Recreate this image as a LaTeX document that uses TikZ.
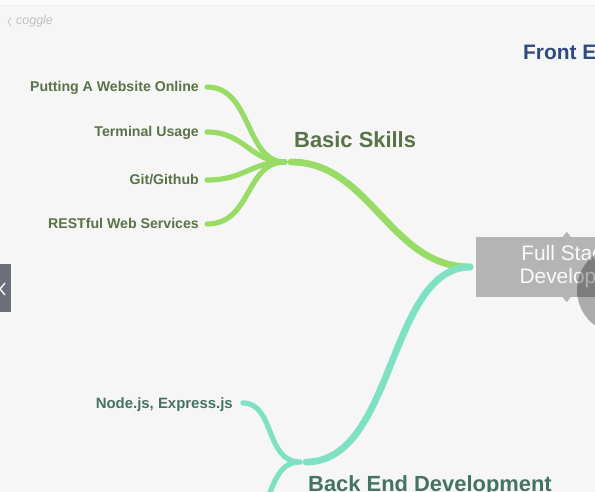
\documentclass[tikz,border=0pt]{standalone}
\usepackage{fontspec}
\setmainfont{Liberation Sans}
\usetikzlibrary{positioning}
\definecolor{cgBack}{HTML}{F6F6F6}
\definecolor{cgGreen}{HTML}{98DC66}
\definecolor{cgGreenText}{HTML}{5A7247}
\definecolor{cgTeal}{HTML}{7FE1C4}
\definecolor{cgTealText}{HTML}{457265}
\definecolor{cgBlue}{HTML}{2F4A7E}
\definecolor{cgNode}{HTML}{B4B4B4}
\definecolor{cgTab}{HTML}{6C6F79}
\begin{document}
\begin{tikzpicture}[x=1bp,y=-1bp,
  node distance=8bp,
  leaf/.style={font=\fontsize{14.2}{16}\selectfont\bfseries,inner sep=0pt,
               text height=10bp,text depth=0pt},
  gleaf/.style={leaf,text=cgGreenText},
  tleaf/.style={leaf,text=cgTealText},
  topic/.style={font=\fontsize{22}{24}\selectfont\bfseries,inner sep=0pt,
                text height=15.8bp,text depth=0pt,anchor=west},
  root/.style={fill=cgNode,text=white!95!cgNode,align=center,
               font=\fontsize{21}{23}\selectfont,
               minimum width=182bp,minimum height=60bp,anchor=west},
  gbr/.style={cgGreen,line width=5.2bp,line cap=round},
  gmain/.style={cgGreen,line width=6.8bp,line cap=round},
  tbr/.style={cgTeal,line width=5.2bp,line cap=round},
  tmain/.style={cgTeal,line width=6.8bp,line cap=round}
]
\useasboundingbox (0,0) rectangle (595,492);
\clip (0,0) rectangle (595,492);
\fill[cgBack] (0,0) rectangle (595,492);
\fill[white!60!cgBack] (0,0) rectangle (595,5);
\draw[black!7,line width=1bp] (0,5.5) -- (595,5.5);

% app chrome
\draw[black!22,line width=0.9bp,line cap=round,line join=round] (11,18) -- (8,22) -- (11,26);
\node[text=black!25,font=\fontsize{12.5}{13}\selectfont\rmfamily\itshape,anchor=west,inner sep=0pt] (logo) at (16,21) {coggle};
\fill[cgTab] (0,264) rectangle (11,312);
\draw[white,line width=1.3bp] (-5,283) -- (5,295) (-5,295) -- (5,283);

% central node
\node[root] (fsd) at (476,267) {Full Stack\\Developer};
\fill[cgNode] ([xshift=-0.5bp]fsd.north) ++(-4,0) -- ++(4,-5) -- ++(4,5) -- cycle;
\fill[cgNode] ([xshift=-0.5bp]fsd.south) ++(-4,0) -- ++(4,5) -- ++(4,-5) -- cycle;
\coordinate (rootIn) at ([xshift=-6bp]fsd.west);

\node[topic,text=cgBlue,font=\fontsize{21}{24}\selectfont\bfseries] (fe) at (523,52) {Front End Development};

% basic skills
\coordinate (bsHub) at (288,162);
\node[topic,text=cgGreenText] (bs) at ([shift={(6,-22)}]bsHub) {Basic Skills};
\coordinate (pwoEnd) at (207,87);
\coordinate (tuEnd)  at (207,132);
\coordinate (gitEnd) at (207,180);
\coordinate (restEnd) at (207,224);
\node[gleaf,left=of pwoEnd]  (pwo)  {Putting A Website Online};
\node[gleaf,left=of tuEnd]   (tu)   {Terminal Usage};
\node[gleaf,left=of gitEnd]  (git)  {Git/Github};
\node[gleaf,left=of restEnd] (rest) {RESTful Web Services};

\draw[gmain] (rootIn) .. controls (390,267) and (370,162) .. ([xshift=3bp]bsHub);
\draw[gbr] ([xshift=-3bp]bsHub) .. controls (245,162) and (252,87) .. (pwoEnd);
\draw[gbr] ([xshift=-3bp]bsHub) .. controls (250,162) and (245,132) .. (tuEnd);
\draw[gbr] ([xshift=-3bp]bsHub) .. controls (250,162) and (245,180) .. (gitEnd);
\draw[gbr] ([xshift=-3bp]bsHub) .. controls (245,162) and (252,224) .. (restEnd);

% back end
\coordinate (beHub) at (303,462);
\node[topic,text=cgTealText] (be) at ([shift={(5,22)}]beHub) {Back End Development};
\coordinate (nodeEnd) at (243,403);
\coordinate (beLow) at (243,521);
\node[tleaf,font=\fontsize{15}{16}\selectfont\bfseries,left=10bp of nodeEnd] (njs) {Node.js, Express.js};

\draw[tmain] (rootIn) .. controls (388,268) and (395,462) .. ([xshift=3bp]beHub);
\draw[tbr] ([xshift=-3bp]beHub) .. controls (265,462) and (275,403) .. (nodeEnd);
\draw[tbr] ([xshift=-3bp]beHub) .. controls (265,462) and (275,521) .. (beLow);

% overlay button
\fill[black,opacity=0.3] (621,290) circle (44);
\end{tikzpicture}
\end{document}
